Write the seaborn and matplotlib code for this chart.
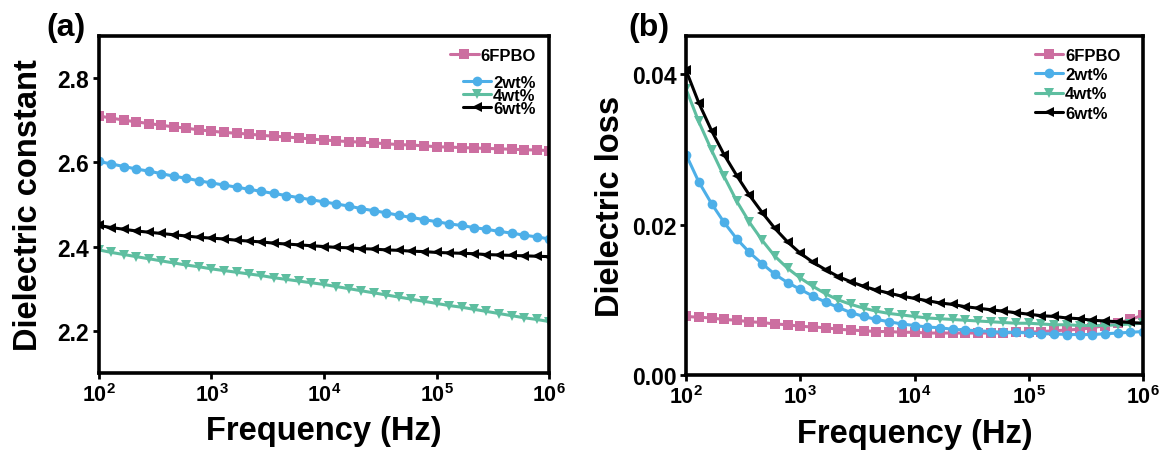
# Dielectric constant / dielectric loss vs frequency, two panels

import numpy as np
import pandas as pd
import seaborn as sns
import matplotlib.pyplot as plt
from matplotlib.lines import Line2D
from matplotlib.ticker import FuncFormatter, FormatStrFormatter, NullLocator

# ------------------------------
# Data
# ------------------------------
freq_hz = [1.00e2, 1.29e2, 1.67e2, 2.15e2, 2.78e2, 3.59e2, 4.64e2, 5.99e2, 7.74e2,
           1.00e3, 1.29e3, 1.67e3, 2.15e3, 2.78e3, 3.59e3, 4.64e3, 5.99e3, 7.74e3,
           1.00e4, 1.29e4, 1.67e4, 2.15e4, 2.78e4, 3.59e4, 4.64e4, 5.99e4, 7.74e4,
           1.00e5, 1.29e5, 1.67e5, 2.15e5, 2.78e5, 3.59e5, 4.64e5, 5.99e5, 7.74e5,
           1.00e6]

samples = ['6FPBO', '2wt%', '4wt%', '6wt%']

# (a) dielectric constant
dk_6fpbo = [2.710, 2.705, 2.700, 2.696, 2.692, 2.688, 2.684, 2.681, 2.677, 2.674,
            2.671, 2.669, 2.667, 2.664, 2.662, 2.660, 2.658, 2.655, 2.653,
            2.651, 2.649, 2.648, 2.646, 2.644, 2.642, 2.641, 2.639, 2.637,
            2.636, 2.635, 2.634, 2.633, 2.632, 2.631, 2.630, 2.629, 2.628]
dk_2wt = [2.602, 2.596, 2.590, 2.584, 2.579, 2.573, 2.567, 2.562, 2.556, 2.551,
          2.546, 2.541, 2.536, 2.531, 2.526, 2.521, 2.516, 2.511, 2.506,
          2.501, 2.496, 2.490, 2.485, 2.480, 2.474, 2.469, 2.464, 2.459,
          2.454, 2.450, 2.445, 2.441, 2.436, 2.432, 2.427, 2.423, 2.418]
dk_4wt = [2.392, 2.386, 2.381, 2.376, 2.371, 2.366, 2.361, 2.356, 2.352, 2.347,
          2.343, 2.339, 2.335, 2.331, 2.326, 2.322, 2.318, 2.314, 2.310,
          2.305, 2.300, 2.295, 2.290, 2.285, 2.280, 2.275, 2.270, 2.265,
          2.260, 2.256, 2.251, 2.246, 2.241, 2.236, 2.231, 2.227, 2.222]
dk_6wt = [2.450, 2.445, 2.441, 2.437, 2.434, 2.431, 2.428, 2.425, 2.422, 2.420,
          2.418, 2.415, 2.413, 2.411, 2.408, 2.406, 2.404, 2.402, 2.400,
          2.398, 2.397, 2.395, 2.394, 2.392, 2.391, 2.389, 2.388, 2.386,
          2.385, 2.384, 2.383, 2.381, 2.380, 2.379, 2.378, 2.377, 2.376]

# (b) dielectric loss
df_6fpbo = [0.0078, 0.0077, 0.0076, 0.0074, 0.0073, 0.0071, 0.0070, 0.0068, 0.0067, 0.0065,
            0.0064, 0.0063, 0.0061, 0.0060, 0.0059, 0.0058, 0.0058, 0.0057, 0.0057,
            0.0056, 0.0056, 0.0056, 0.0056, 0.0056, 0.0056, 0.0056, 0.0057, 0.0057,
            0.0058, 0.0059, 0.0060, 0.0061, 0.0063, 0.0066, 0.0069, 0.0074, 0.0080]
df_2wt = [0.0293, 0.0257, 0.0228, 0.0203, 0.0181, 0.0163, 0.0148, 0.0134, 0.0123, 0.0114,
          0.0105, 0.0097, 0.0090, 0.0083, 0.0078, 0.0074, 0.0071, 0.0068, 0.0066,
          0.0064, 0.0063, 0.0061, 0.0060, 0.0059, 0.0058, 0.0057, 0.0057, 0.0056,
          0.0055, 0.0055, 0.0054, 0.0054, 0.0054, 0.0055, 0.0056, 0.0057, 0.0058]
df_4wt = [0.0380, 0.0337, 0.0299, 0.0264, 0.0231, 0.0203, 0.0179, 0.0158, 0.0142, 0.0129,
          0.0118, 0.0108, 0.0100, 0.0094, 0.0089, 0.0085, 0.0082, 0.0080, 0.0078,
          0.0076, 0.0075, 0.0074, 0.0073, 0.0072, 0.0071, 0.0070, 0.0069, 0.0069,
          0.0068, 0.0067, 0.0067, 0.0066, 0.0066, 0.0066, 0.0067, 0.0068, 0.0069]
df_6wt = [0.0405, 0.0362, 0.0325, 0.0293, 0.0265, 0.0239, 0.0216, 0.0195, 0.0177, 0.0162,
          0.0150, 0.0140, 0.0131, 0.0124, 0.0118, 0.0113, 0.0109, 0.0105, 0.0102,
          0.0099, 0.0096, 0.0094, 0.0091, 0.0089, 0.0087, 0.0085, 0.0083, 0.0081,
          0.0079, 0.0078, 0.0076, 0.0075, 0.0073, 0.0072, 0.0071, 0.0070, 0.0069]

colors = {'6FPBO': '#CC6EA0', '2wt%': '#4DAFE8', '4wt%': '#5EBEA0', '6wt%': '#000000'}
markers = {'6FPBO': 's', '2wt%': 'o', '4wt%': 'v', '6wt%': '<'}


def long_frame(series):
    rows = []
    for name, vals in zip(samples, series):
        for f, v in zip(freq_hz, vals):
            rows.append([name, f, v])
    return pd.DataFrame(rows, columns=['sample', 'freq', 'value'])


dk_df = long_frame([dk_6fpbo, dk_2wt, dk_4wt, dk_6wt])
loss_df = long_frame([df_6fpbo, df_2wt, df_4wt, df_6wt])

# ------------------------------
# Style
# ------------------------------
sns.set_style('ticks')
plt.rcParams['font.family'] = ['Liberation Sans', 'DejaVu Sans']
plt.rcParams['font.weight'] = 'bold'
plt.rcParams['axes.labelweight'] = 'bold'
plt.rcParams['mathtext.fontset'] = 'custom'
plt.rcParams['mathtext.bf'] = 'Liberation Sans:bold'
plt.rcParams['mathtext.rm'] = 'Liberation Sans:bold'
for key in ['text.color', 'axes.labelcolor', 'axes.edgecolor', 'xtick.color', 'ytick.color']:
    plt.rcParams[key] = 'black'

fig = plt.figure(figsize=(11.63, 4.56), dpi=100)
ax_a = fig.add_axes([0.0851, 0.180, 0.387, 0.739])
ax_b = fig.add_axes([0.5899, 0.175, 0.393, 0.743])


def draw_panel(ax, data):
    sns.lineplot(data=data, x='freq', y='value', hue='sample', style='sample',
                 hue_order=samples, style_order=samples,
                 palette=colors, markers=markers, dashes=False,
                 markersize=7, markeredgewidth=0, linewidth=2.2,
                 legend=False, ax=ax)
    ax.set_xscale('log')
    ax.set_xlim(1e2, 1e6)
    ax.set_xticks([1e2, 1e3, 1e4, 1e5, 1e6])
    ax.xaxis.set_minor_locator(NullLocator())
    ax.xaxis.set_major_formatter(FuncFormatter(lambda v, p: r'$\mathbf{10^{%d}}$' % round(np.log10(v))))
    for spine in ax.spines.values():
        spine.set_visible(True)
        spine.set_linewidth(2.6)
        spine.set_color('black')
    ax.tick_params(axis='both', which='major', direction='out', length=4, width=2,
                   pad=3, top=False, right=False, colors='black')
    ax.tick_params(axis='x', labelsize=15.5)
    ax.tick_params(axis='y', labelsize=16.5)
    for lab in ax.get_yticklabels():
        lab.set_fontweight('bold')
    ax.set_xlabel('Frequency (Hz)', fontsize=23.5, fontweight='bold', labelpad=7)


def make_handles(names):
    return [Line2D([0], [0], color=colors[n], marker=markers[n], markersize=7,
                   markeredgewidth=0, linewidth=2.2, label=n) for n in names]


# ------------------------------
# (a) Dielectric constant
# ------------------------------
draw_panel(ax_a, dk_df)
ax_a.set_ylim(2.1, 2.9)
ax_a.set_yticks([2.2, 2.4, 2.6, 2.8])
ax_a.yaxis.set_major_formatter(FormatStrFormatter('%.1f'))
ax_a.set_ylabel('Dielectric constant', fontsize=23.5, fontweight='bold', labelpad=10)

leg1 = ax_a.legend(handles=make_handles(['6FPBO']), loc='upper right',
                   bbox_to_anchor=(0.985, 0.985), frameon=False, handlelength=1.7,
                   handletextpad=0.1, borderaxespad=0, prop={'size': 12, 'weight': 'bold'})
ax_a.add_artist(leg1)
ax_a.legend(handles=make_handles(['2wt%', '4wt%', '6wt%']), loc='upper right',
            bbox_to_anchor=(0.985, 0.905), frameon=False, handlelength=1.7,
            handletextpad=0.1, labelspacing=-0.12, borderaxespad=0,
            prop={'size': 12, 'weight': 'bold'})

# ------------------------------
# (b) Dielectric loss
# ------------------------------
draw_panel(ax_b, loss_df)
ax_b.set_ylim(0, 0.045)
ax_b.set_yticks([0.0, 0.02, 0.04])
ax_b.yaxis.set_major_formatter(FormatStrFormatter('%.2f'))
ax_b.set_ylabel('Dielectric loss', fontsize=23.5, fontweight='bold', labelpad=4)
ax_b.legend(handles=make_handles(samples), loc='upper right',
            bbox_to_anchor=(0.965, 0.985), frameon=False, handlelength=1.7,
            handletextpad=0.1, labelspacing=0.25, borderaxespad=0,
            prop={'size': 12, 'weight': 'bold'})

fig.text(0.040, 0.972, '(a)', fontsize=23, fontweight='bold', va='top')
fig.text(0.540, 0.972, '(b)', fontsize=23, fontweight='bold', va='top')

fig.savefig('out.png', dpi=100)
